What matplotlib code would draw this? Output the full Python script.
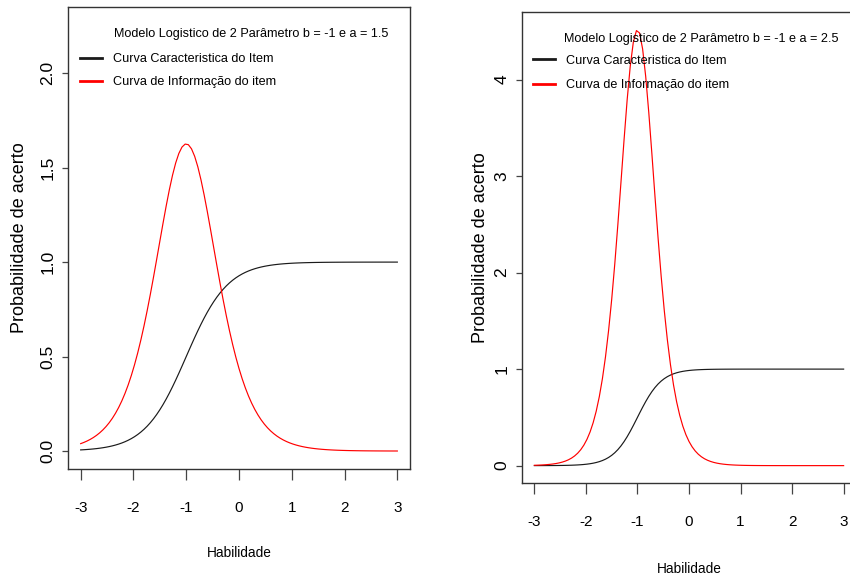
import numpy as np
import matplotlib
matplotlib.use("Agg")
import matplotlib.pyplot as plt

# Item parameters of the two 2PL items (scaling constant D = 1.7)
D = 1.7
b_values = [-1.0, -1.0]
a_values = [1.5, 2.5]
titles = ["Modelo Logistico de 2 Parâmetro b = -1 e a = 1.5",
          "Modelo Logistico de 2 Parâmetro b = -1 e a = 2.5"]
legend_labels = ["Curva Caracteristica do Item", "Curva de Informação do item"]
x_ticks = [-3, -2, -1, 0, 1, 2, 3]
y_ticks_left = [0.0, 0.5, 1.0, 1.5, 2.0]
y_ticklabels_left = ["0.0", "0.5", "1.0", "1.5", "2.0"]
y_ticks_right = [0, 1, 2, 3, 4]
y_ticklabels_right = ["0", "1", "2", "3", "4"]
x_label = "Habilidade"
y_label = "Probabilidade de acerto"

theta = np.linspace(-3, 3, 101)

FONT = dict(family=["Liberation Sans", "DejaVu Sans"])

fig = plt.figure(figsize=(8.5, 5.82), dpi=100)

panels = [
    dict(rect=[68/850, 1-469/582, 342/850, 462/582], ylim=(-0.095, 2.35),
         yt=y_ticks_left, ytl=y_ticklabels_left, ylab_x=-0.142, xlab_y=-0.182,
         title_xy=(0.535, 0.942), leg_anchor=(0.035, 0.900), spacing=0.86),
    dict(rect=[522/850, 1-483/582, 334/850, 471/582], ylim=(-0.18, 4.70),
         yt=y_ticks_right, ytl=y_ticklabels_right, ylab_x=-0.125, xlab_y=-0.183,
         title_xy=(0.536, 0.943), leg_anchor=(0.033, 0.909), spacing=0.98),
]

for i, p in enumerate(panels):
    ax = fig.add_axes(p["rect"])
    a, b = a_values[i], b_values[i]
    prob = 1.0 / (1.0 + np.exp(-D * a * (theta - b)))
    info = (D * a) ** 2 * prob * (1 - prob)
    l1, = ax.plot(theta, prob, color="#1a1a1a", lw=0.85)
    l2, = ax.plot(theta, info, color="#ff0000", lw=0.85)

    ax.set_xlim(-3.24, 3.24)
    ax.set_ylim(*p["ylim"])
    ax.set_xticks(x_ticks)
    ax.set_xticklabels([str(t) for t in x_ticks], fontsize=11, **FONT)
    ax.set_yticks(p["yt"])
    ax.set_yticklabels(p["ytl"], fontsize=12.5, rotation=90, va="center",
                       **FONT)
    ax.tick_params(axis="x", length=8, width=0.9, color="#444444", pad=15)
    ax.tick_params(axis="y", length=4, width=0.9, color="#444444", pad=5)
    for s in ax.spines.values():
        s.set_color("#333333")
        s.set_linewidth(1.0)

    ax.set_xlabel(x_label, fontsize=9.8, **FONT)
    ax.xaxis.set_label_coords(0.5, p["xlab_y"])
    ax.xaxis.label.set_va("center")
    ax.set_ylabel(y_label, fontsize=13, **FONT)
    ax.yaxis.set_label_coords(p["ylab_x"], 0.5)
    ax.yaxis.label.set_va("center")

    ax.text(p["title_xy"][0], p["title_xy"][1], titles[i], transform=ax.transAxes,
            ha="center", va="center", fontsize=9.1, **FONT)
    ax.legend([l1, l2], legend_labels, loc="upper left",
              bbox_to_anchor=p["leg_anchor"], frameon=False,
              prop=dict(size=9.1, **FONT), handlelength=1.74,
              handletextpad=0.88, labelspacing=p["spacing"], borderpad=0.0,
              borderaxespad=0.0)
    for h in ax.get_legend().get_lines():
        h.set_linewidth(2.0)

fig.savefig("out.png", dpi=100)
